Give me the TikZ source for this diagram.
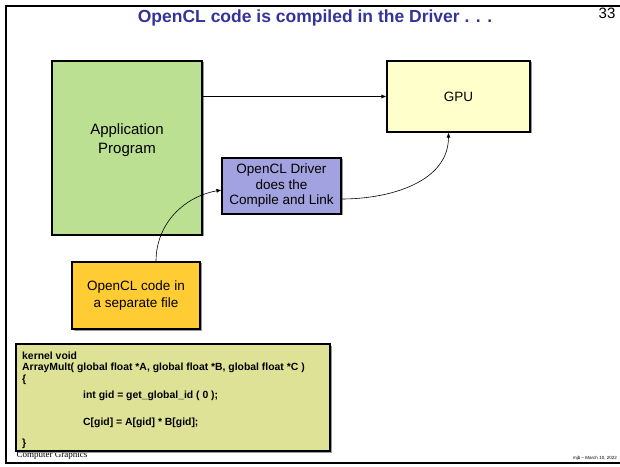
\documentclass[tikz,border=0pt]{standalone}
\usepackage{fontspec}
\setmainfont{Liberation Sans}
\newfontfamily\footfont{Liberation Serif}
\usetikzlibrary{arrows.meta,shadows}
\definecolor{titleblue}{RGB}{51,51,153}
\definecolor{appgreen}{RGB}{187,224,145}
\definecolor{gpuyellow}{RGB}{255,255,204}
\definecolor{drvblue}{RGB}{162,162,224}
\definecolor{oclorange}{RGB}{255,204,51}
\definecolor{codekhaki}{RGB}{222,226,150}
\tikzset{
  slidebox/.style={draw=black, line width=1.1pt, inner sep=0pt, align=center,
    drop shadow={shadow xshift=1.5pt, shadow yshift=-1.5pt, fill=black!40, opacity=1}},
  boxtext/.style={inner sep=0pt, align=center},
  link/.style={line width=0.6pt, -{Latex[length=5pt,width=4pt]}},
  codeline/.style={anchor=west, inner sep=0pt, font=\fontsize{10.4}{12}\selectfont\bfseries}
}

\begin{document}
\begin{tikzpicture}[x=1pt,y=1pt]
        \useasboundingbox (0,0) rectangle (620,466);
        % slide frame
        \draw[line width=1.8pt] (620,460) -- (6,460) -- (6,3) -- (620,3);
        \node[text=titleblue, font=\fontsize{17.5}{20}\selectfont\bfseries] (title) at (315,448) {OpenCL code is compiled in the Driver . . .};
        \node[font=\fontsize{15}{16}\selectfont] (pagenum) at (607,453) {33};
        \node[font=\fontsize{4.5}{5}\selectfont] (date) at (595,8) {mjb – March 10, 2022};
        \node[font=\footfont\fontsize{9}{9}\selectfont] (foot) at (52,11) {Computer Graphics};
        % boxes
        \node[slidebox, fill=appgreen, minimum width=150pt, minimum height=174pt] (app) at (127,318) {};
        \node[boxtext, font=\fontsize{15}{19}\selectfont] (apptext) at (127,325.5) {Application\\Program};
        \node[slidebox, fill=gpuyellow, minimum width=143pt, minimum height=71pt, font=\fontsize{13.5}{16}\selectfont] (gpu) at (458.5,369.5) {GPU};
        \node[slidebox, fill=drvblue, minimum width=119pt, minimum height=56pt, font=\fontsize{13.5}{15.5}\selectfont] (drv) at (281.5,280) {OpenCL Driver\\does the\\Compile and Link};
        \node[slidebox, fill=oclorange, minimum width=128pt, minimum height=67pt, font=\fontsize{13.5}{17.5}\selectfont] (ocl) at (136,170.5) {OpenCL code in\\a separate file};
        % kernel source
        \node[slidebox, fill=codekhaki, minimum width=314pt, minimum height=107pt] (codebox) at (173,68.5) {};
        \node[codeline] (kern) at (22,110) {kernel void};
        \node[codeline] (sig) at (22,98) {ArrayMult( global float *A, global float *B, global float *C )};
        \node[codeline] (open) at (22,86) {\{};
        \node[codeline] (gid) at (83,70) {int gid = get\_global\_id ( 0 );};
        \node[codeline] (mult) at (83,43) {C[gid] = A[gid] * B[gid];};
        \node[codeline] (close) at (22,22) {\}};
        % connectors
        \draw[link] (app.east |- gpu.west) -- (gpu.west);
        \draw[link] ([xshift=20pt]ocl.north) to[out=90,in=190] ([yshift=-4pt]drv.west);
        \draw[link] ([yshift=-13pt]drv.east) to[out=0,in=270] ([xshift=-10pt]gpu.south);
\end{tikzpicture}
\end{document}
